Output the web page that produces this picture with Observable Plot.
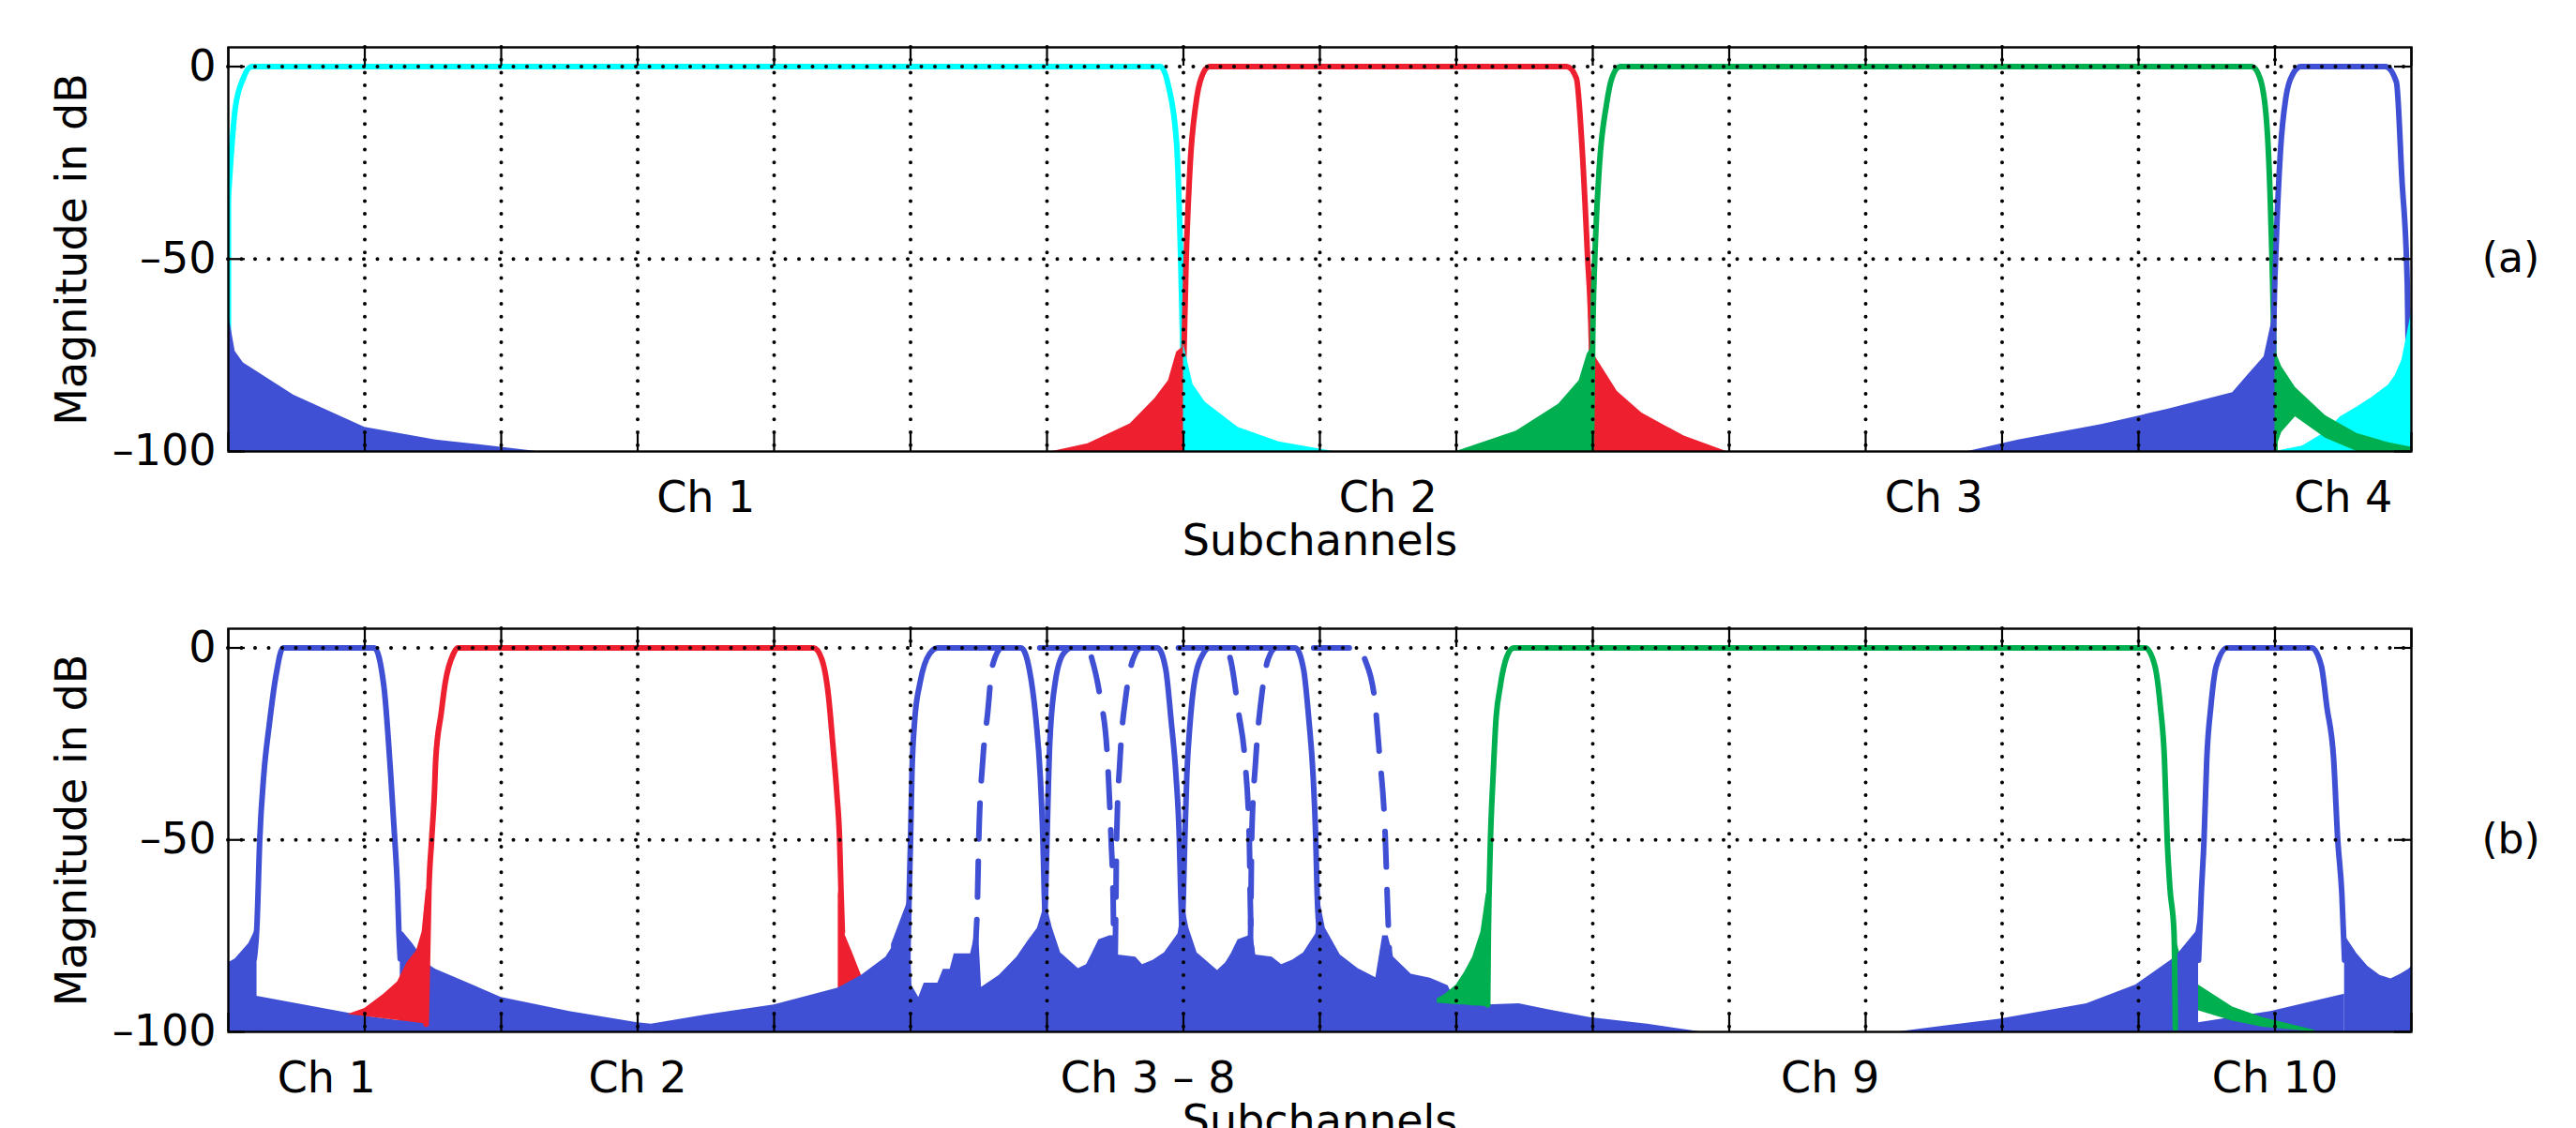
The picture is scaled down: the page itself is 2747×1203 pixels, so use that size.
<!DOCTYPE html>
<html><head><meta charset="utf-8">
<script src="https://cdn.jsdelivr.net/npm/d3@7"></script>
<script src="https://cdn.jsdelivr.net/npm/@observablehq/plot@0.6"></script>
<style>
html,body{margin:0;padding:0;background:#fff;}
#chart{width:2747px;}
#chart svg{display:block;}
</style></head><body><div id="chart"></div>
<script>
// ---------- axes / labels ----------
const xDomain = [0, 16];
const yDomain = [-100, 5];
const xTicks = [0,1,2,3,4,5,6,7,8,9,10,11,12,13,14,15,16];
const gridX = [1,2,3,4,5,6,7,8,9,10,11,12,13,14,15];
const yTicks = [0, -50, -100];
const gridY = [0, -50];
const xLabel = "Subchannels";
const yLabel = "Magnitude in dB";
const chPosA = [3.5, 8.5, 12.5, 15.5];
const chLabelsA = ["Ch 1", "Ch 2", "Ch 3", "Ch 4"];
const chPosB = [0.72, 3.0, 6.74, 11.74, 15.0];
const chLabelsB = ["Ch 1", "Ch 2", "Ch 3 – 8", "Ch 9", "Ch 10"];
const tagA = "(a)";
const tagB = "(b)";

// ---------- panel (a) data: [subchannel, dB] ----------
const a_blueWrapL = [[0,-64],[0.05,-74],[0.11,-77],[0.48,-85.4],[1.0,-93.7],[1.52,-97],[2.0,-98.9],[2.26,-100]];
const a_cyanPass = [[0,-34],[0.05,-11],[0.11,-3],[0.17,0],[6.83,0],[6.89,-5],[6.95,-20],[6.98,-50],[7.0,-80],[7.01,-100]];
const a_cyanEdge = [[0,-100],[0,-34]];
const a_redSideL = [[6.04,-100],[6.3,-98],[6.61,-92.8],[6.79,-86.3],[6.89,-81.6],[6.95,-74.2],[6.99,-73]];
const a_redPass = [[6.99,-100],[7.0,-80],[7.02,-50],[7.05,-25],[7.09,-10],[7.13,-3],[7.19,0],[9.81,0],[9.88,-3],[9.92,-20],[9.96,-48],[9.99,-72],[10.0,-100]];
const a_redSideR = [[9.99,-73.7],[10.03,-76],[10.18,-84.4],[10.36,-90],[10.67,-96],[10.98,-100]];
const a_cyanSideR = [[7.0,-72],[7.07,-82.6],[7.16,-87.2],[7.4,-93.7],[7.7,-97.5],[8.1,-100]];
const a_greenSideL = [[9.0,-100],[9.44,-94.7],[9.75,-87.7],[9.9,-81.6],[9.96,-74.6],[9.99,-73]];
const a_greenPass = [[9.99,-100],[10.0,-70],[10.02,-45],[10.05,-25],[10.1,-10],[10.14,-3],[10.2,0],[14.83,0],[14.89,-3],[14.94,-15],[14.97,-40],[14.99,-70],[15.0,-100]];
// [x, lower dB, upper dB]
const a_greenSideR = [[15.0,-100,-73.7],[15.05,-95,-78],[15.15,-91,-83.4],[15.37,-96.5,-90.7],[15.6,-100,-95.3],[15.83,-100,-97.7],[16.0,-100,-98.9]];
const a_blueSideL = [[12.75,-100],[13.12,-97],[13.73,-93],[14.22,-89],[14.69,-84.7],[14.8,-80.2],[14.92,-75.4],[14.98,-65.6]];
const a_bluePass = [[14.98,-100],[14.99,-70],[15.01,-45],[15.04,-22],[15.08,-8],[15.13,-2],[15.19,0],[15.81,0],[15.89,-4],[15.93,-29],[15.97,-57],[15.98,-82]];
const a_cyanWrapR = [[15.0,-100],[15.2,-98.6],[15.37,-95],[15.48,-91],[15.6,-88.5],[15.71,-86],[15.83,-82.8],[15.88,-80.3],[15.93,-76.3],[15.96,-71],[16.0,-63.9]];

// ---------- panel (b) data ----------
const b_blueEdgeL = [[0,-82],[0.05,-81],[0.1,-79],[0.15,-77],[0.19,-74],[0.21,-72]];
const b_blueFloor1 = [[0.19,-90.6],[1.0,-95.9],[1.45,-98]];
const b_blue1SideR = [[1.26,-74],[1.28,-74],[1.35,-77],[1.42,-80.5],[1.49,-83],[1.52,-83.7],[2.0,-91],[2.5,-94.7],[3.0,-97.6],[3.1,-98]];
const b_blue1Pass = [[0.19,-81],[0.21,-72],[0.23,-50],[0.26,-33],[0.3,-20],[0.35,-7],[0.4,0],[1.07,0],[1.14,-10],[1.19,-33],[1.22,-50],[1.24,-63],[1.25,-74],[1.26,-81]];
const b_redSideL = [[0.875,-95.5,-95.5],[1.0,-96,-93.9],[1.14,-96.6,-90.2],[1.24,-97,-87],[1.31,-97.3,-82],[1.38,-97.6,-78.8],[1.42,-97.8,-74],[1.45,-98,-63],[1.47,-98,-63]];
const b_redPass = [[1.45,-98],[1.47,-63],[1.49,-50],[1.51,-38],[1.52,-29],[1.56,-17],[1.59,-9],[1.65,-1.5],[1.68,0],[4.29,0],[4.35,-3],[4.4,-13],[4.43,-25],[4.46,-38],[4.48,-50],[4.49,-63],[4.5,-74]];
const b_redSideR = [[4.47,-63],[4.5,-73],[4.57,-79],[4.64,-85.3],[4.66,-86]];
const b_blue3SideL = [[3.1,-98],[3.52,-95.5],[4.0,-93],[4.47,-88.6],[4.64,-85.3],[4.82,-80.5],[4.96,-72.7],[5.0,-70]];
const b_blueMid = [[4.86,-77.2],[4.99,-65],[5.01,-88],[5.06,-91],[5.1,-87.3],[5.2,-87.3],[5.24,-83.7],[5.29,-83.7],[5.32,-79.7],[5.44,-79.7],[5.47,-75],[5.5,-75],[5.52,-88.4],[5.65,-85.3],[5.78,-80.5],[5.86,-76.4],[5.93,-73],[5.99,-66],[6.04,-73],[6.1,-79.4],[6.23,-83.5],[6.29,-82.5],[6.33,-79.7],[6.38,-76],[6.46,-75],[6.5,-75],[6.52,-80],[6.65,-80.5],[6.7,-82.5],[6.78,-81.3],[6.86,-79.4],[6.96,-74.5],[7.0,-66],[7.04,-73],[7.1,-79.4],[7.25,-84],[7.31,-82],[7.35,-79.7],[7.4,-76],[7.48,-75],[7.51,-75],[7.53,-80],[7.65,-80.5],[7.72,-82.5],[7.8,-81.3],[7.88,-79.4],[7.97,-74.5],[8.0,-66],[8.04,-73],[8.15,-80],[8.28,-83.5],[8.41,-85.9],[8.46,-75],[8.5,-75],[8.54,-80.5],[8.67,-85],[8.81,-86],[8.94,-88],[9.0,-92.7],[9.22,-93],[9.46,-92.7],[9.67,-94.2],[9.98,-96.3],[10.4,-98],[10.79,-100]];
const b_blue3Pass = [[4.98,-81],[4.99,-64],[5.0,-50],[5.01,-33],[5.03,-19],[5.07,-9],[5.14,-1.5],[5.2,0],[5.81,0],[5.87,-5.5],[5.92,-19],[5.95,-33],[5.97,-50],[5.98,-64],[5.99,-75]];
const b_blue5Pass = [[5.98,-75],[5.99,-64],[6.0,-50],[6.02,-25],[6.06,-9],[6.12,-1.5],[6.18,0],[6.81,0],[6.87,-5.5],[6.91,-19],[6.945,-33],[6.97,-50],[6.98,-64],[6.99,-75]];
const b_blue7Pass = [[6.99,-75],[7.0,-64],[7.01,-50],[7.025,-33],[7.05,-19],[7.08,-9],[7.145,-1.5],[7.19,0],[7.82,0],[7.88,-5.5],[7.92,-19],[7.95,-33],[7.97,-50],[7.98,-64],[8.0,-75]];
const b_blue4Dash = [[5.47,-80],[5.49,-66],[5.5,-50],[5.53,-29],[5.565,-17],[5.6,-4.7],[5.67,0],[6.3,0],[6.33,-3],[6.39,-13],[6.44,-27],[6.47,-50],[6.485,-66],[6.49,-80]];
const b_blue6Dash = [[6.5,-80],[6.505,-66],[6.51,-50],[6.535,-29],[6.58,-12],[6.63,-3],[6.69,0],[7.31,0],[7.345,-3],[7.405,-17],[7.45,-29],[7.483,-50],[7.49,-66],[7.5,-80]];
const b_blue8Dash = [[7.49,-80],[7.495,-66],[7.5,-50],[7.53,-29],[7.575,-12],[7.62,-3],[7.68,0],[8.29,0],[8.33,-3],[8.4,-13],[8.435,-27],[8.48,-50],[8.495,-66],[8.51,-80]];
const b_greenSideL = [[8.86,-92.5,-91.4],[8.92,-92.7,-90.2],[9.0,-92.9,-87.8],[9.06,-93,-84.5],[9.12,-93.2,-80.5],[9.18,-93.3,-74],[9.22,-93.4,-64],[9.245,-93.5,-64]];
const b_greenPass = [[9.23,-93],[9.235,-74],[9.24,-64],[9.25,-50],[9.27,-33],[9.29,-19],[9.32,-10.4],[9.37,-2.3],[9.42,0],[14.05,0],[14.12,-4.7],[14.16,-15.3],[14.19,-29],[14.21,-50],[14.23,-62.5],[14.26,-74],[14.27,-99]];
const b_greenSideR = [[14.26,-100,-74],[14.31,-98,-80.5],[14.44,-94.5,-87.8],[14.69,-97.2,-93.5],[14.91,-98.8,-96.3],[15.29,-100,-99.6]];
const b_blue10Floor = [[14.44,-97.6],[14.97,-94.7],[15.51,-90.2]];
const b_blue10SideL = [[12.25,-100],[12.59,-98.4],[12.98,-96.7],[13.62,-92.7],[13.98,-87.8],[14.27,-80.5],[14.42,-74],[14.44,-70]];
const b_blue10Pass = [[14.44,-81.3],[14.46,-64],[14.48,-50],[14.5,-29],[14.53,-15.3],[14.57,-4.7],[14.65,0],[15.27,0],[15.34,-4.7],[15.38,-15.3],[15.43,-29],[15.46,-50],[15.49,-64],[15.51,-81.3]];
const b_blue10SideR = [[15.51,-74.8],[15.6,-79.6],[15.68,-82.9],[15.77,-85.3],[15.85,-86.2],[15.92,-85],[15.98,-83.7],[16,-83]];

// ---------- styling ----------
const COL = {cyan: "#00FFFF", red: "#EE2030", green: "#00AF4F", blue: "#4050D4"};
const FONT = '"DejaVu Sans", sans-serif';
const W = 2747, ML = 243, MR = 176;
const LW = 6;

const fill = (data, color) => Plot.areaY(data, {x: d => d[0], y1: yDomain[0], y2: d => d[1], fill: color, clip: true});
const band = (data, color) => Plot.areaY(data, {x: d => d[0], y1: d => d[1], y2: d => d[2], fill: color, clip: true});
const line = (data, color, dash) => Plot.line(data, {x: d => d[0], y: d => d[1], stroke: color, strokeWidth: LW, strokeLinejoin: "round", strokeDasharray: dash, curve: "monotone-x", clip: true});
const edge = (data, color) => Plot.line(data, {x: d => d[0], y: d => d[1], stroke: color, strokeWidth: LW, clip: true});
const fmtTick = d => d < 0 ? "\u2013" + Math.abs(d) : String(d);

function panel({height, marginTop, marginBottom, layers, chPos, chLabels, tag}) {
  const frameW = W - ML - MR;
  const frameH = height - marginTop - marginBottom;
  return Plot.plot({
    width: W, height, marginLeft: ML, marginRight: MR, marginTop, marginBottom,
    x: {domain: xDomain, axis: null},
    y: {domain: yDomain},
    style: {fontFamily: FONT, fontSize: "46px", background: "white", color: "black"},
    marks: [
      ...layers,
      Plot.ruleX(gridX, {x: d => d, stroke: "black", strokeWidth: 4, strokeDasharray: "0,13.7", strokeLinecap: "round"}),
      Plot.ruleY(gridY, {y: d => d, stroke: "black", strokeWidth: 4, strokeDasharray: "0,14.5", strokeLinecap: "round"}),
      Plot.ruleX(xTicks, {x: d => d, insetBottom: frameH - 20, stroke: "black", strokeWidth: 2.2}),
      Plot.ruleX(xTicks, {x: d => d, insetTop: frameH - 20, stroke: "black", strokeWidth: 2.2}),
      Plot.ruleY(yTicks, {y: d => d, insetRight: frameW - 18, stroke: "black", strokeWidth: 2.2}),
      Plot.ruleY(yTicks, {y: d => d, insetLeft: frameW - 18, stroke: "black", strokeWidth: 2.2}),
      Plot.frame({stroke: "black", strokeWidth: 2.4}),
      Plot.axisY(yTicks, {tickSize: 0, tickPadding: 13, label: null, tickFormat: fmtTick, fontSize: 46}),
      Plot.text(chLabels, {x: (d, i) => chPos[i], frameAnchor: "bottom", dy: 32, lineAnchor: "top", fontSize: 46}),
      Plot.text([xLabel], {frameAnchor: "bottom", dy: 78, lineAnchor: "top", fontSize: 46}),
      Plot.text([yLabel], {frameAnchor: "left", rotate: -90, dx: -166, textAnchor: "middle", lineAnchor: "middle", fontSize: 46}),
      Plot.text([tag], {x: xDomain[1], y: gridY[1], dx: 106, textAnchor: "middle", lineAnchor: "middle", fontSize: 44})
    ]
  });
}

const layersA = [
  edge(a_cyanEdge, COL.cyan),
  fill(a_blueWrapL, COL.blue),
  line(a_cyanPass, COL.cyan),
  fill(a_redSideL, COL.red),
  fill(a_redSideR, COL.red),
  line(a_redPass, COL.red),
  fill(a_cyanSideR, COL.cyan),
  fill(a_greenSideL, COL.green),
  line(a_greenPass, COL.green),
  fill(a_blueSideL, COL.blue),
  line(a_bluePass, COL.blue),
  fill(a_cyanWrapR, COL.cyan),
  band(a_greenSideR, COL.green)
];

const layersB = [
  fill(b_blueFloor1, COL.blue),
  fill(b_blueEdgeL, COL.blue),
  fill(b_blue1SideR, COL.blue),
  line(b_blue1Pass, COL.blue),
  band(b_redSideL, COL.red),
  fill(b_redSideR, COL.red),
  line(b_redPass, COL.red),
  fill(b_blue3SideL, COL.blue),
  fill(b_blueMid, COL.blue),
  line(b_blue3Pass, COL.blue),
  line(b_blue5Pass, COL.blue),
  line(b_blue7Pass, COL.blue),
  line(b_blue4Dash, COL.blue, "38,24"),
  line(b_blue6Dash, COL.blue, "38,24"),
  line(b_blue8Dash, COL.blue, "38,24"),
  fill(b_blue10Floor, COL.blue),
  band(b_greenSideL, COL.green),
  band(b_greenSideR, COL.green),
  fill(b_blue10SideL, COL.blue),
  line(b_greenPass, COL.green),
  line(b_blue10Pass, COL.blue),
  fill(b_blue10SideR, COL.blue)
];

const root = document.getElementById("chart");
root.appendChild(panel({height: 612, marginTop: 50, marginBottom: 131, layers: layersA, chPos: chPosA, chLabels: chLabelsA, tag: tagA}));
root.appendChild(panel({height: 591, marginTop: 58, marginBottom: 103, layers: layersB, chPos: chPosB, chLabels: chLabelsB, tag: tagB}));
</script>
</body></html>
